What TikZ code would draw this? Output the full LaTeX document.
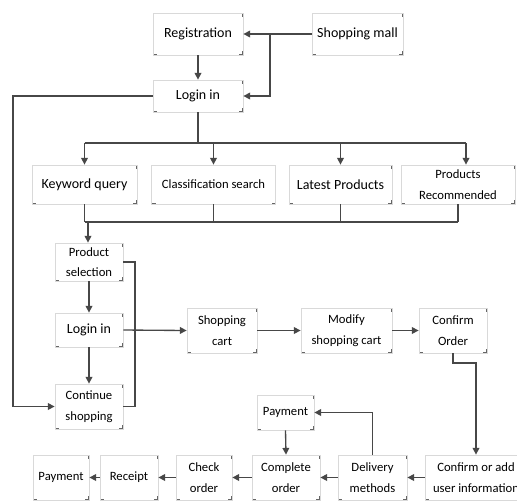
\documentclass[tikz,border=0pt]{standalone}
\usepackage{fontspec}
\setmainfont{Carlito}
\usetikzlibrary{arrows.meta}
\begin{document}
\begin{tikzpicture}[x=.75pt,y=-.75pt,
 box/.style={draw=black!15,line width=.6pt,align=center,inner sep=1pt,
  font=\fontsize{10.5}{15.5}\selectfont,
  path picture={\draw[black!60,line width=1.4pt]
   ([yshift=-3pt]path picture bounding box.north west)--(path picture bounding box.north west)--++(3pt,0)
   ([xshift=-3pt]path picture bounding box.north east)--(path picture bounding box.north east)--++(0,-3pt)
   ([yshift=3pt]path picture bounding box.south east)--(path picture bounding box.south east)--++(-3pt,0)
   ([xshift=3pt]path picture bounding box.south west)--(path picture bounding box.south west)--++(0,3pt);}},
 sm/.style={font=\fontsize{9.5}{15.5}\selectfont},
 wh/.style 2 args={minimum width=#1*.75pt,minimum height=#2*.75pt},
 ln/.style={draw=black!72,line width=1pt},
 arr/.style={ln,-{Triangle[length=5pt,width=5pt]}}]
 \useasboundingbox (0,0) rectangle (517,501);
 % top
 \node[box,wh={90}{42}] (reg) at (198,34) {Registration};
 \node[box,wh={91}{42}] (mall) at (357.5,34) {Shopping mall};
 \node[box,wh={90}{32}] (login) at (198,96) {Login in};
 % search row
 \node[box,wh={105}{39}] (kw) at (84.5,184.5) {Keyword query};
 \node[box,sm,wh={124}{39}] (cls) at (213.5,184.5) {Classification search};
 \node[box,wh={103}{39}] (lat) at (340.5,184.5) {Latest Products};
 \node[box,sm,wh={114}{39}] (rec) at (458,184.5) {Products\\Recommended};
 % left column
 \node[box,sm,wh={68}{38}] (psel) at (89,262) {Product\\selection};
 \node[box,wh={68}{34}] (login2) at (89,330) {Login in};
 \node[box,sm,wh={68}{45}] (cont) at (89,406.5) {Continue\\shopping};
 % cart row
 \node[box,sm,wh={70}{45}] (cart) at (222,330.5) {Shopping\\cart};
 \node[box,sm,wh={91}{45}] (mod) at (346.5,330.5) {Modify\\shopping cart};
 \node[box,sm,wh={68}{45}] (conf) at (453,330.5) {Confirm\\Order};
 % bottom row
 \node[box,sm,wh={57}{35}] (pay2) at (285.5,412.5) {Payment};
 \node[box,sm,wh={56}{45}] (pay) at (61,477.5) {Payment};
 \node[box,sm,wh={58}{45}] (rcpt) at (129,477.5) {Receipt};
 \node[box,sm,wh={56}{45}] (chk) at (204,477.5) {Check\\order};
 \node[box,sm,wh={68}{45}] (comp) at (286,477.5) {Complete\\order};
 \node[box,sm,wh={69}{45}] (del) at (372.5,477.5) {Delivery\\methods};
 \node[box,sm,wh={102}{45}] (cadd) at (476,477.5) {Confirm or add\\user information};
 % helper points
 \coordinate (br) at (270,34);
 \coordinate (hub) at (198,143);
 \coordinate (join) at (88,222);
 \coordinate (lft) at (13,96);
 \coordinate (rgt) at (135,262);
 \coordinate (bend) at (453,363);
 % connectors
 \draw[arr] (mall.west)--(reg.east);
 \draw[arr] (br) |- (login.east);
 \draw[arr] (reg.south)--(login.north);
 \draw[ln] (login.south)--(hub);
 \draw[ln] (kw.north|-hub)--([xshift=6pt]rec.north|-hub);
 \foreach \n in {kw,cls,lat} \draw[arr] (\n.north|-hub)--(\n.north);
 \draw[arr] ([xshift=6pt]rec.north|-hub)--([xshift=6pt]rec.north);
 \foreach \n in {kw,cls,lat} \draw[ln] (\n.south)--(\n.south|-join);
 \draw[ln] (rec.south)--(rec.south|-join);
 \draw[ln] (kw.south|-join)--(rec.south|-join);
 \draw[arr] (join)--(join|-psel.north);
 \draw[arr] (login.west)--(lft) |- (cont.west);
 \draw[ln] (psel.east|-rgt)--(rgt) |- (cont.east);
 \draw[arr] (psel.south)--(login2.north);
 \draw[arr] (login2.south)--(cont.north);
 \draw[arr] (login2.east)--(cart.west);
 \draw[arr] (cart.east)--(mod.west);
 \draw[arr] (mod.east)--(conf.west);
 \draw[arr] (conf.south)--(bend) -| (cadd.north);
 \draw[arr] (cadd.west)--(del.east);
 \draw[arr] (del.west)--(comp.east);
 \draw[arr] (comp.west)--(chk.east);
 \draw[arr] (chk.west)--(rcpt.east);
 \draw[arr] (rcpt.west)--(pay.east);
 \draw[arr] (del.north) |- (pay2.east);
 \draw[arr] (pay2.south)--(comp.north);
\end{tikzpicture}
\end{document}
